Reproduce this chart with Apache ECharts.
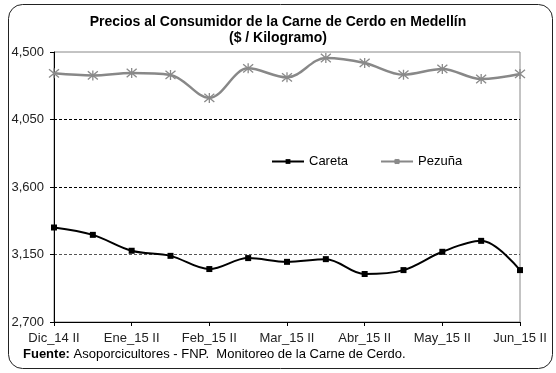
<!DOCTYPE html>
<html>
<head>
<meta charset="utf-8">
<script src="https://cdn.jsdelivr.net/npm/echarts@6/dist/echarts.min.js"></script>
<style>
  html, body { margin: 0; padding: 0; background: #fff; }
  #chart { width: 556px; height: 373px; }
</style>
</head>
<body>
<div id="chart"></div>
<script>
// Semimonthly periods (I = first half, II = second half of the month)
const periods = [
  'Dic_14 II', 'Ene_15 I', 'Ene_15 II', 'Feb_15 I', 'Feb_15 II', 'Mar_15 I', 'Mar_15 II',
  'Abr_15 I', 'Abr_15 II', 'May_15 I', 'May_15 II', 'Jun_15 I', 'Jun_15 II'
];
// Prices in $ per kilogram
const careta = [3330, 3281, 3175, 3141, 3053, 3126, 3101, 3119, 3020, 3046, 3168, 3241, 3046];
const pezuna = [4358, 4344, 4360, 4347, 4194, 4391, 4331, 4460, 4427, 4349, 4387, 4320, 4354];
const yTicks = [2700, 3150, 3600, 4050, 4500];

const FONT = '"Liberation Sans", Arial, sans-serif';
const asterisk = 'path://M0,0L10,10M10,0L0,10M5,-1L5,11';

const chart = echarts.init(document.getElementById('chart'), null, { renderer: 'canvas' });
chart.setOption({
  animation: false,
  backgroundColor: '#fff',
  title: {
    text: 'Precios al Consumidor de la Carne de Cerdo en Medellín\n($ / Kilogramo)',
    left: 'center',
    top: 9,
    textStyle: { fontFamily: FONT, fontSize: 14, fontWeight: 'bold', color: '#000', lineHeight: 16 }
  },
  graphic: [
    {
      type: 'rect',
      shape: { x: 8.5, y: 4.5, width: 544, height: 364, r: 14 },
      style: { fill: 'none', stroke: '#222', lineWidth: 1 },
      silent: true, z: -1
    },
    {
      type: 'text',
      left: 23, top: 348,
      style: {
        text: '{b|Fuente:} Asoporcicultores - FNP.  Monitoreo de la Carne de Cerdo.',
        rich: {
          b: { fontFamily: FONT, fontSize: 13, fontWeight: 'bold', fill: '#000' }
        },
        fontFamily: FONT, fontSize: 13, fill: '#000'
      }
    }
  ],
  legend: {
    left: 266, top: 150,
    itemWidth: 32, itemHeight: 6, itemGap: 32,
    textStyle: { fontFamily: FONT, fontSize: 13, color: '#000' },
    data: ['Careta', 'Pezuña']
  },
  grid: {
    left: 54, right: 36, top: 52, bottom: 51,
    show: true, borderColor: '#888', borderWidth: 1
  },
  xAxis: {
    type: 'category',
    data: periods,
    boundaryGap: false,
    axisLine: { lineStyle: { color: '#000', width: 1 } },
    axisTick: { show: true, interval: 1, length: 4, lineStyle: { color: '#000' } },
    axisLabel: { interval: 1, margin: 10, fontFamily: FONT, fontSize: 13, color: '#222' }
  },
  yAxis: {
    type: 'value',
    min: yTicks[0], max: yTicks[yTicks.length - 1], interval: 450,
    axisLine: { show: true, lineStyle: { color: '#000', width: 1 } },
    axisTick: { show: true, length: 4, lineStyle: { color: '#000' } },
    axisLabel: {
      margin: 10, fontFamily: FONT, fontSize: 13, color: '#222',
      formatter: v => v.toLocaleString('en-US')
    },
    splitLine: {
      show: true,
      lineStyle: { color: ['transparent', '#555', '#000', '#000', 'transparent'], type: [3, 2], width: 1 }
    }
  },
  series: [
    {
      name: 'Careta',
      type: 'line',
      data: careta,
      smooth: 0.35,
      symbol: 'rect',
      symbolSize: 6,
      lineStyle: { color: '#000', width: 2 },
      itemStyle: { color: '#000' },
      z: 3
    },
    {
      name: 'Pezuña',
      type: 'line',
      data: pezuna,
      smooth: 0.35,
      symbol: asterisk,
      symbolSize: 10,
      lineStyle: { color: '#888', width: 2.5 },
      itemStyle: { color: 'transparent', borderColor: '#8a8a8a', borderWidth: 1.3 },
      z: 3
    }
  ]
});
</script>
</body>
</html>
